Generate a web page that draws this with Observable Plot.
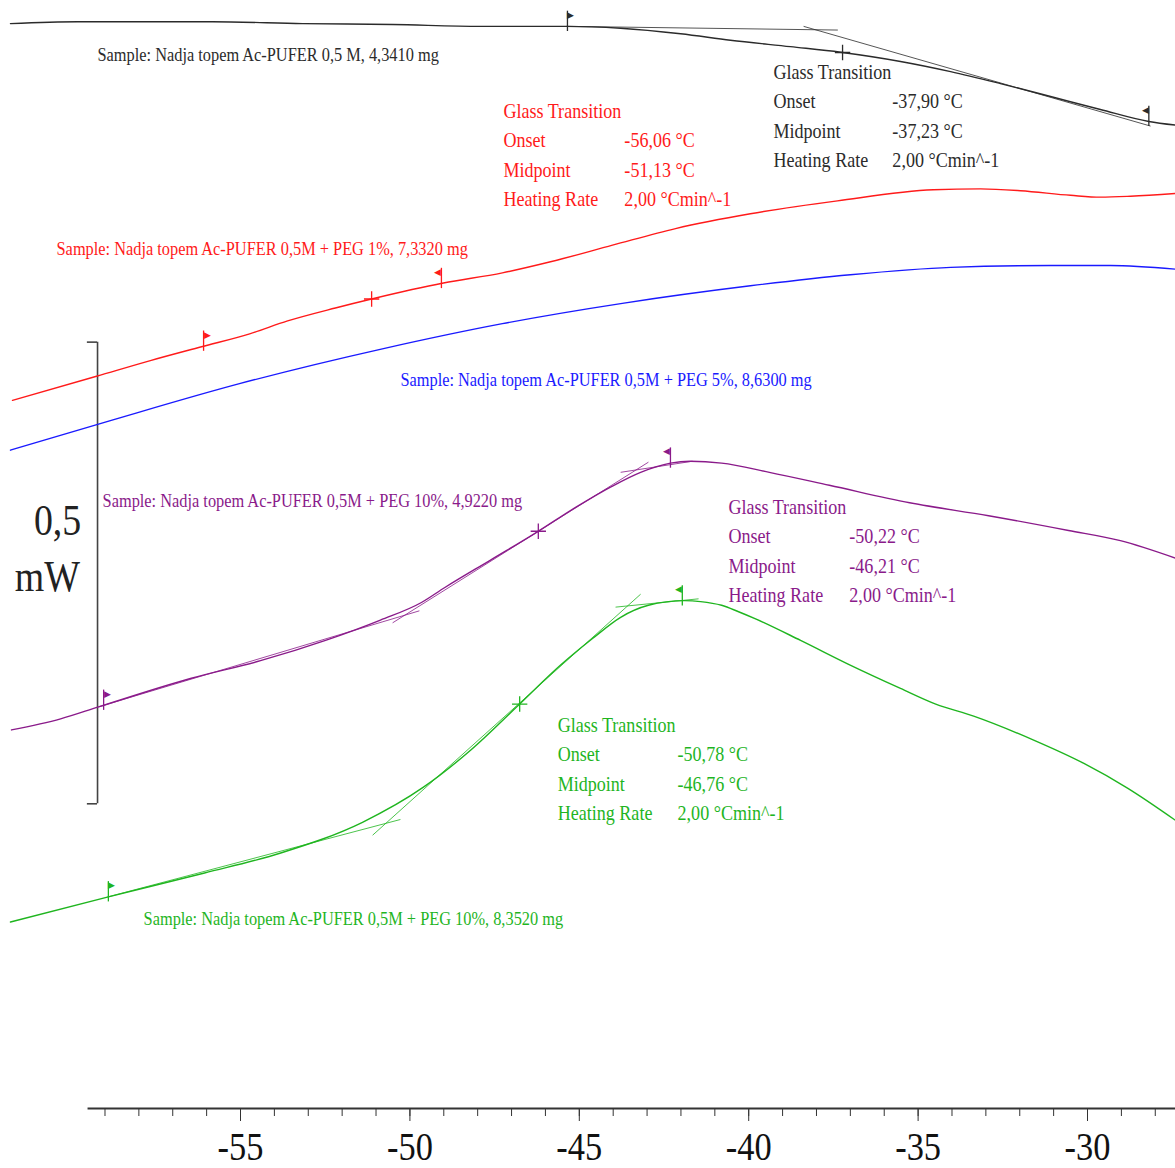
<!DOCTYPE html>
<html><head><meta charset="utf-8">
<script src="https://cdn.jsdelivr.net/npm/d3@7"></script>
<script src="https://cdn.jsdelivr.net/npm/@observablehq/plot@0.6"></script>
<style>html,body{margin:0;padding:0;background:#fff}svg{display:block}</style>
</head><body><div id="chart"></div>
<script>
// ---------- DATA (temperature °C, heat flow mW, arbitrary offset per curve) ----------
const blackT = [-61.79,-59.81,-55.83,-53.17,-50.51,-47.92,-45.38,-43.78,-42.01,-40.54,-38.77,-37.29,-35.52,-34.04,-32.57,-31.09,-29.62,-28.19,-27.40];
const blackV = [1.175,1.177,1.177,1.175,1.174,1.172,1.172,1.170,1.164,1.157,1.150,1.144,1.134,1.123,1.110,1.096,1.082,1.069,1.065];

const redT = [-61.73,-59.25,-57.66,-56.15,-54.73,-53.61,-52.20,-51.10,-49.01,-47.27,-45.85,-44.02,-42.16,-39.95,-37.38,-34.55,-33.16,-31.98,-30.50,-29.62,-28.73,-27.40];
const redV = [0.767,0.793,0.810,0.825,0.839,0.853,0.867,0.877,0.894,0.905,0.917,0.935,0.953,0.969,0.983,0.995,0.996,0.994,0.989,0.987,0.988,0.991];

const blueT = [-61.79,-58.84,-55.03,-50.78,-47.27,-43.73,-39.95,-37.00,-34.04,-31.09,-29.32,-27.40];
const blueV = [0.713,0.745,0.785,0.823,0.850,0.872,0.891,0.903,0.911,0.913,0.913,0.909];

const purpleT = [-61.76,-60.31,-59.19,-56.45,-54.41,-52.49,-50.87,-49.66,-48.98,-47.62,-46.26,-45.11,-44.08,-43.19,-42.31,-41.72,-40.80,-39.39,-37.62,-35.25,-32.92,-30.56,-29.03,-27.40];
const purpleV = [0.410,0.422,0.435,0.466,0.485,0.507,0.529,0.548,0.564,0.594,0.624,0.651,0.673,0.689,0.699,0.701,0.699,0.689,0.675,0.656,0.642,0.626,0.615,0.596];

const greenT = [-61.79,-58.93,-56.06,-53.79,-51.40,-49.60,-48.21,-46.79,-45.56,-44.61,-43.78,-42.96,-41.90,-41.42,-40.80,-40.30,-39.78,-38.47,-36.99,-35.52,-34.48,-33.36,-31.59,-30.12,-28.82,-27.40];
const greenV = [0.202,0.229,0.255,0.277,0.310,0.348,0.388,0.437,0.480,0.509,0.532,0.545,0.550,0.549,0.545,0.538,0.530,0.507,0.480,0.455,0.438,0.425,0.399,0.374,0.347,0.312];

const seriesNames = ["black","red","blue","purple","green"];
const seriesColors = ["#2b2b2b","#ff1a1a","#1a1aff","#8a1a8a","#1fb51f"];
const sampleTexts = [
  "Sample: Nadja topem Ac-PUFER 0,5 M, 4,3410 mg",
  "Sample: Nadja topem Ac-PUFER 0,5M + PEG 1%, 7,3320 mg",
  "Sample: Nadja topem Ac-PUFER 0,5M + PEG 5%, 8,6300 mg",
  "Sample: Nadja topem Ac-PUFER 0,5M + PEG 10%, 4,9220 mg",
  "Sample: Nadja topem Ac-PUFER 0,5M + PEG 10%, 8,3520 mg"
];

// Glass transition results (°C)
const gtSeries   = ["black","red","purple","green"];
const gtOnset    = [-37.90,-56.06,-50.22,-50.78];
const gtMidpoint = [-37.23,-51.13,-46.21,-46.76];
const gtRate     = [2.00,2.00,2.00,2.00];

// Evaluation limit flags (°C) and direction
const flagSeries = ["black","black","red","red","purple","purple","green","green"];
const flagT      = [-45.35,-28.19,-56.09,-49.07,-59.04,-42.31,-58.90,-41.96];
const flagDir    = ["r","l","r","l","r","l","r","l"];

// Tangent construction lines (°C, mW)
const tanSeries = ["black","black","purple","purple","purple","green","green","green"];
const tanT1 = [-45.38,-38.38,-59.19,-50.51,-43.78,-58.93,-51.10,-43.93];
const tanV1 = [1.172,1.172,0.435,0.526,0.689,0.229,0.296,0.543];
const tanT2 = [-37.37,-28.14,-49.72,-42.96,-41.66,-50.28,-43.19,-41.48];
const tanV2 = [1.168,1.064,0.539,0.700,0.701,0.313,0.557,0.552];

// Axis ticks
const majorTicks = [-55,-50,-45,-40,-35,-30];
const minorTicks = d3.range(-59,-27,1);
const scaleBarValue = "0,5";
const scaleBarUnit = "mW";

// ---------- annotation placement (°C, mW) ----------
const sampleLabelPos = [[-59.22,1.1416],[-60.43,0.9314],[-50.28,0.7896],[-59.07,0.6585],[-57.86,0.2058]];
const gtBlockPos = [[-39.27,-35.76,1.1221],[-47.24,-43.67,1.0798],[-40.60,-37.03,0.6509],[-45.64,-42.10,0.4148]];
const rowStep = 0.0316;
const scaleBar = {T: -59.22, capT: -59.52, v0: 0.33, v1: 0.83, labelT: -60.40, labelV: 0.6368, unitT: -60.70, unitV: 0.5762};

// ---------- build tables ----------
const colorOf = Object.fromEntries(seriesNames.map((s,i)=>[s,seriesColors[i]]));
const curves = {black:[blackT,blackV], red:[redT,redV], blue:[blueT,blueV], purple:[purpleT,purpleV], green:[greenT,greenV]};
const lines = seriesNames.flatMap(s => curves[s][0].map((t,i)=>({series:s, T:t, V:curves[s][1][i]})));
function interp(s, t){ const [T,V]=curves[s]; for(let i=1;i<T.length;i++){ if(t<=T[i]){ const f=(t-T[i-1])/(T[i]-T[i-1]); return V[i-1]+f*(V[i]-V[i-1]); } } return V[V.length-1]; }
const flags = flagSeries.map((s,i)=>({series:s, T:flagT[i], dir:flagDir[i], V:interp(s,flagT[i])}));
const mids = gtSeries.map((s,i)=>({series:s, T:gtMidpoint[i], V:interp(s,gtMidpoint[i])}));
const tangents = tanSeries.map((s,i)=>({series:s, T1:tanT1[i], V1:tanV1[i], T2:tanT2[i], V2:tanV2[i]}));
const samples = seriesNames.map((s,i)=>({series:s, text:sampleTexts[i], T:sampleLabelPos[i][0], V:sampleLabelPos[i][1]}));
const fmt = v => v.toFixed(2).replace(".",",");
const gtRows = gtSeries.flatMap((s,i)=>{
  const [tl,tv,v0]=gtBlockPos[i];
  return [
    {series:s,T:tl,V:v0,text:"Glass Transition"},
    {series:s,T:tl,V:v0-rowStep,text:"Onset"},
    {series:s,T:tv,V:v0-rowStep,text:fmt(gtOnset[i])+" °C"},
    {series:s,T:tl,V:v0-2*rowStep,text:"Midpoint"},
    {series:s,T:tv,V:v0-2*rowStep,text:fmt(gtMidpoint[i])+" °C"},
    {series:s,T:tl,V:v0-3*rowStep,text:"Heating Rate"},
    {series:s,T:tv,V:v0-3*rowStep,text:fmt(gtRate[i])+" °Cmin^-1"}
  ];
});

const chart = Plot.plot({
  width: 1175, height: 1168,
  marginLeft: 0, marginRight: 0, marginTop: 0, marginBottom: 60,
  style: {fontFamily: "'Liberation Serif', 'Times New Roman', serif", background: "#fff"},
  x: {domain: [-62.084, -27.403], axis: null},
  y: {domain: [0, 1.2], axis: null},
  color: {domain: seriesNames, range: seriesColors},
  marks: [
    // axis
    Plot.ruleY([0], {x1: -59.5, x2: -27.403, stroke: "#333", strokeWidth: 2}),
    Plot.axisX(minorTicks, {tickSize: 8, tickFormat: () => "", stroke: "#333", label: null}),
    Plot.axisX(majorTicks, {tickSize: 13, tickPadding: 10, fontSize: 40, fill: "#111", stroke: "#333", tickFormat: d => String(d), label: null}),
    // scale bar
    Plot.ruleX([scaleBar.T], {y1: scaleBar.v0, y2: scaleBar.v1, stroke: "#444", strokeWidth: 1.6}),
    Plot.ruleY([scaleBar.v0, scaleBar.v1], {x1: scaleBar.capT, x2: scaleBar.T, stroke: "#444", strokeWidth: 1.6}),
    Plot.text([scaleBarValue], {x: scaleBar.labelT, y: scaleBar.labelV, text: d => d, fontSize: 44, fill: "#222"}),
    Plot.text([scaleBarUnit], {x: scaleBar.unitT, y: scaleBar.unitV, text: d => d, fontSize: 44, fill: "#222"}),
    // tangents
    Plot.link(tangents, {x1: "T1", y1: "V1", x2: "T2", y2: "V2", stroke: d => colorOf[d.series], strokeWidth: 1, strokeOpacity: 0.8}),
    // curves
    Plot.line(lines, {x: "T", y: "V", z: "series", stroke: d => colorOf[d.series], strokeWidth: 1.4, curve: "monotone-x"}),
    // flags
    Plot.link(flags, {x1: "T", x2: "T", y1: d => d.V - 0.005, y2: d => d.V + 0.017, stroke: d => colorOf[d.series], strokeWidth: 1.3}),
    Plot.text(flags, {x: "T", y: d => d.V + 0.0125, text: d => d.dir === "r" ? "▶" : "◀", fontSize: 9, fill: d => colorOf[d.series], textAnchor: "start"}),
    // midpoints
    Plot.dot(mids, {x: "T", y: "V", symbol: "plus", r: 5, stroke: d => colorOf[d.series], strokeWidth: 1.3}),
    // labels
    Plot.text(samples, {x: "T", y: "V", text: "text", fill: d => colorOf[d.series], fontSize: 19, textAnchor: "start"}),
    Plot.text(gtRows, {x: "T", y: "V", text: "text", fill: d => colorOf[d.series], fontSize: 21, textAnchor: "start"})
  ]
});
document.getElementById("chart").append(chart);
// condensed type face look
chart.querySelectorAll("text").forEach(t => {
  const txt = t.textContent;
  if (txt === "▶" || txt === "◀" || !txt.trim()) return;
  const L = t.getComputedTextLength();
  t.setAttribute("textLength", (L * 0.86).toFixed(1));
  t.setAttribute("lengthAdjust", "spacingAndGlyphs");
});
// flag triangles: align to the pole side
chart.querySelectorAll("text").forEach(t => {
  if (t.textContent === "◀") { t.setAttribute("text-anchor", "end"); }
});
</script></body></html>
